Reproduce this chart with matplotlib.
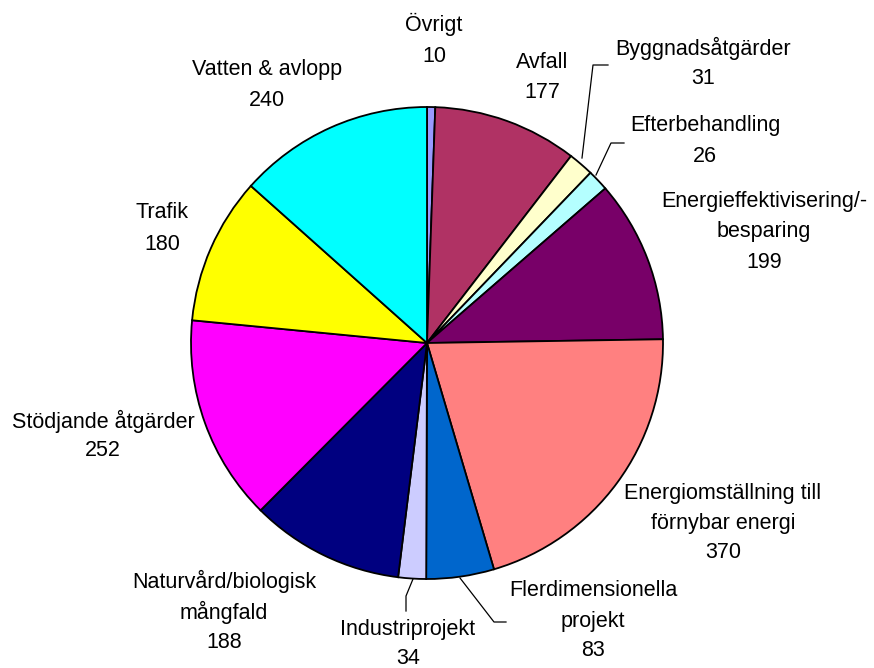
import matplotlib
matplotlib.use("Agg")
import matplotlib.pyplot as plt

categories = ["Övrigt", "Avfall", "Byggnadsåtgärder", "Efterbehandling",
              "Energieffektivisering/-\nbesparing", "Energiomställning till\nförnybar energi",
              "Flerdimensionella\nprojekt", "Industriprojekt", "Naturvård/biologisk\nmångfald",
              "Stödjande åtgärder", "Trafik", "Vatten & avlopp"]
values = [10, 177, 31, 26, 199, 370, 83, 34, 188, 252, 180, 240]
colors = ["#9999FF", "#B03264", "#FFFFCC", "#B4FFFF", "#780068", "#FF8080",
          "#0066CC", "#CCCCFF", "#000080", "#FF00FF", "#FFFF00", "#00FFFF"]

W, H = 874, 668
fig = plt.figure(figsize=(W / 100, H / 100), dpi=100)
ax = fig.add_axes([0, 0, 1, 1])

cx, cy, r = 427, H - 343, 236
ax.pie(values, colors=colors, startangle=90, counterclock=False,
       center=(cx, cy), radius=r, frame=True,
       wedgeprops=dict(edgecolor="black", linewidth=1.3))
ax.set_xlim(0, W)
ax.set_ylim(0, H)
ax.set_aspect("equal")
ax.axis("off")

# label block positions (pixel coords, y down): centre of first line
label_pos = [(434, 24), (542, 63), (703, 48), (705, 126), (764, 201), (723, 493),
             (593, 591), (408, 630), (224, 581), (103, 421), (162, 213), (267, 69)]
line_step = [33, 30, 30, 30, 31, 30, 30, 28, 31, 29, 31, 31]
font = dict(family=["Liberation Sans", "DejaVu Sans"], fontsize=15.5, color="black")
for name, val, (x, y), step in zip(categories, values, label_pos, line_step):
    lines = name.split("\n") + [str(val)]
    for i, ln in enumerate(lines):
        ax.text(x, H - (y + i * step), ln, ha="center", va="center", **font)

# leader lines (pixel coords)
leaders = [
    [(582, 158), (593, 65), (608, 65)],
    [(596, 175), (611, 143), (624, 143)],
    [(413, 579), (406, 596), (406, 611)],
    [(460, 578), (494, 622), (506, 622)],
]
for pts in leaders:
    xs = [p[0] for p in pts]
    ys = [H - p[1] for p in pts]
    ax.plot(xs, ys, color="black", linewidth=0.9)

fig.savefig("out.png", dpi=100)
